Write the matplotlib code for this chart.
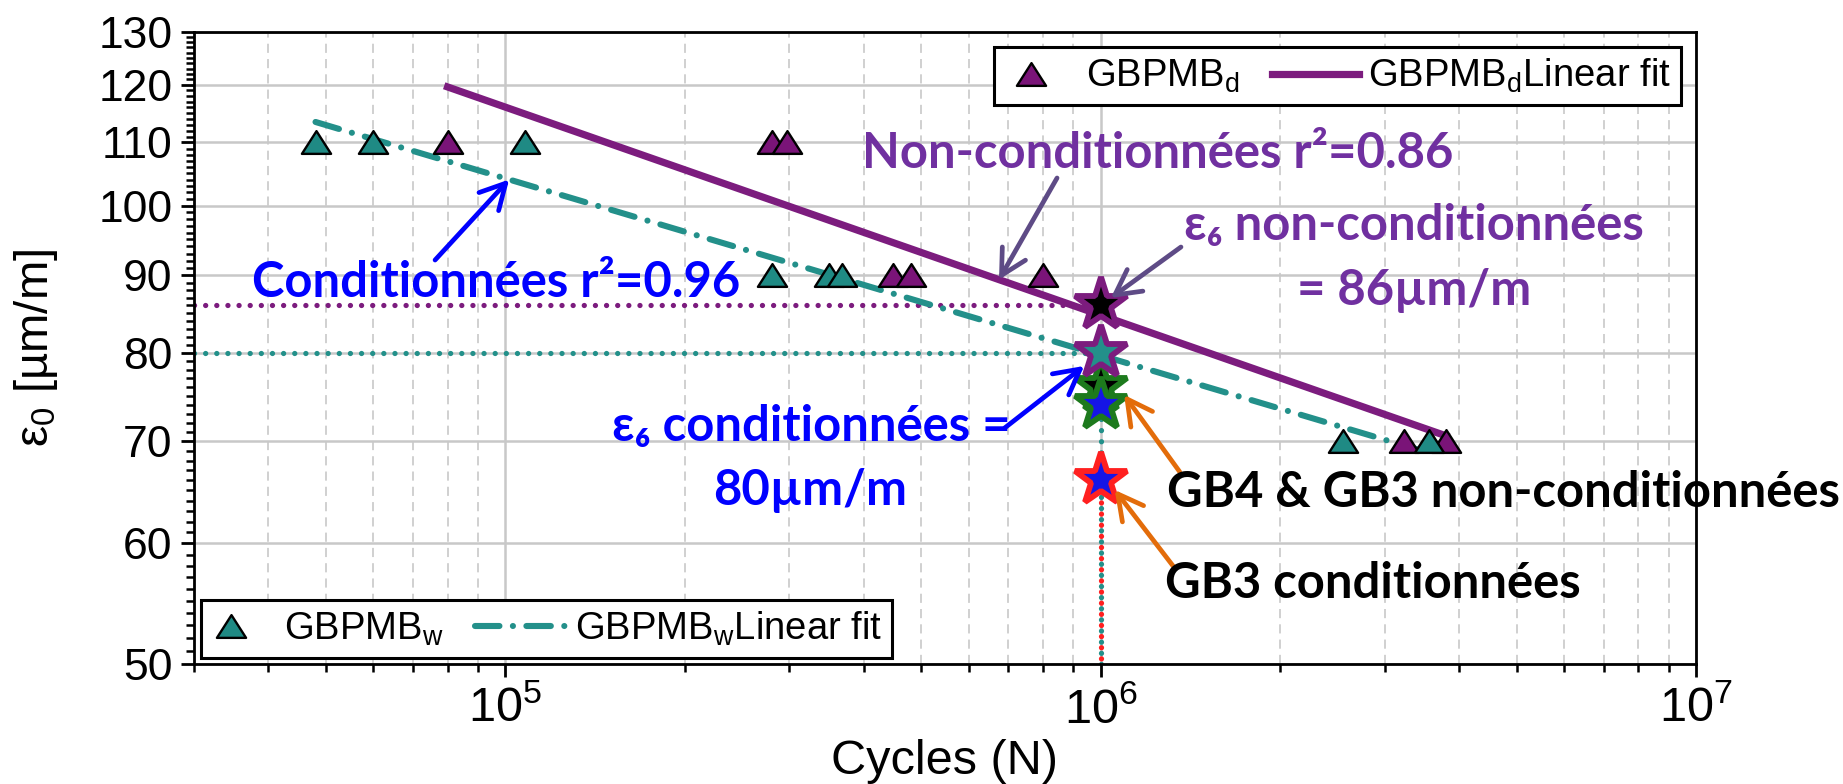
import numpy as np
import matplotlib
matplotlib.use("Agg")
import matplotlib.pyplot as plt
from matplotlib.path import Path
from matplotlib.legend_handler import HandlerLine2D
from matplotlib.ticker import LogLocator, FixedLocator, NullFormatter, FuncFormatter

# Fatigue results: initial strain vs number of cycles to failure
cycles_w = [4.8e4, 6.0e4, 1.08e5, 2.8e5, 3.5e5, 3.68e5, 2.55e6, 3.56e6]
eps_w = [110, 110, 110, 90, 90, 90, 70, 70]
cycles_d = [8.0e4, 2.8e5, 2.97e5, 4.48e5, 4.81e5, 8.0e5, 3.23e6, 3.8e6]
eps_d = [110, 110, 110, 90, 90, 90, 70, 70]

n_ref = 1e6
eps6_cond = 80
eps6_noncond = 86
eps_gb_noncond = [76, 74]      # GB4 & GB3 non-conditionnées
eps_gb3_cond = 66
r2_cond = 0.96
r2_noncond = 0.86

y_ticks = [50, 60, 70, 80, 90, 100, 110, 120, 130]
x_limits = (3e4, 1e7)

TEAL = '#23908A'
TEAL_FILL = '#1F8A84'
PURPLE = '#7C1C7E'
PURPLE_FILL = '#7A1478'
TXT_PURPLE = '#7030A0'
TXT_BLUE = '#0000FF'
ARROW_GREY = '#5E4B86'
ORANGE = '#E36C0A'
GREEN = '#1D7A1D'
STAR_BLUE = '#1515E6'
RED = '#FF2020'

SANS = ['Liberation Sans', 'DejaVu Sans']
BOLD = ['Lato', 'Open Sans', 'DejaVu Sans']
plt.rcParams['font.family'] = SANS
plt.rcParams['mathtext.default'] = 'regular'

fig = plt.figure(figsize=(18.43, 7.84), dpi=100)
ax = fig.add_axes([0.10526, 0.15306, 0.81498, 0.80612])
ax.set_xscale('log')
ax.set_yscale('log')
ax.set_xlim(*x_limits)
ax.set_ylim(y_ticks[0], y_ticks[-1])

# squat triangle marker
tri = Path([(-1, -0.78), (1, -0.78), (0, 0.78), (-1, -0.78)],
           [Path.MOVETO, Path.LINETO, Path.LINETO, Path.CLOSEPOLY])


def loglog_fit(x, y):
    b, a = np.polyfit(np.log10(x), np.log10(y), 1)
    return lambda n: 10 ** (a + b * np.log10(n))


fit_w = loglog_fit(cycles_w, eps_w)
fit_d = loglog_fit(cycles_d, eps_d)
xw = np.array([min(cycles_w), max(cycles_w)])
xd = np.array([min(cycles_d), max(cycles_d)])

fit_line_w, = ax.plot(xw, fit_w(xw), color=TEAL, lw=4.4, dashes=(4.0, 2.2, 0.01, 2.2),
                      dash_capstyle='round', zorder=3)
fit_line_d, = ax.plot(xd, fit_d(xd), color=PURPLE, lw=5.2, zorder=3.1)

pts_w, = ax.plot(cycles_w, eps_w, ls='none', marker=tri, ms=21, mfc=TEAL_FILL,
                 mec='black', mew=1.7, zorder=5)
pts_d, = ax.plot(cycles_d, eps_d, ls='none', marker=tri, ms=21, mfc=PURPLE_FILL,
                 mec='black', mew=1.7, zorder=4.9)

# reading lines at 10^6 cycles
dot = dict(lw=3.8, dash_capstyle='round', zorder=2.5)
ax.plot([x_limits[0], n_ref], [eps6_noncond] * 2, color=PURPLE, ls=(0, (0.01, 2.1)), **dot)
ax.plot([x_limits[0], n_ref], [eps6_cond] * 2, color=TEAL, ls=(0, (0.01, 2.1)), **dot)
ax.plot([n_ref] * 2, [y_ticks[0], eps_gb3_cond], color=RED, ls=(1.05, (0.01, 2.1)), **dot)
ax.plot([n_ref] * 2, [y_ticks[0], eps6_cond], color=TEAL, ls=(0, (0.01, 2.1)), **dot)

star = dict(marker='*', ms=40, mew=4.2, ls='none')
ax.plot([n_ref], [eps_gb_noncond[0]], mfc='black', mec=GREEN, zorder=6, **star)
ax.plot([n_ref], [eps_gb_noncond[1]], mfc=STAR_BLUE, mec=GREEN, zorder=6.1, **star)
ax.plot([n_ref], [eps6_noncond], mfc='black', mec=PURPLE, zorder=6.2, **star)
ax.plot([n_ref], [eps6_cond], mfc=TEAL, mec=PURPLE, zorder=6.3, **star)
ax.plot([n_ref], [eps_gb3_cond], mfc=STAR_BLUE, mec=RED, zorder=6.2, **star)

# grid, ticks, spines
ax.set_axisbelow(True)
ax.grid(True, which='major', color='#C8C8C8', lw=1.8)
ax.xaxis.grid(True, which='minor', color='#C4C4C4', lw=1.1, ls=(0, (6, 4)))
ax.yaxis.grid(False, which='minor')

ax.yaxis.set_major_locator(FixedLocator(y_ticks))
ax.yaxis.set_major_formatter(FuncFormatter(lambda v, p: f'{v:g}'))
ax.yaxis.set_minor_locator(FixedLocator([v for v in range(y_ticks[0], y_ticks[-1] + 1) if v % 10]))
ax.yaxis.set_minor_formatter(NullFormatter())
ax.xaxis.set_major_locator(LogLocator(base=10, numticks=10))
ax.xaxis.set_minor_locator(LogLocator(base=10, subs=np.arange(2, 10), numticks=20))
ax.xaxis.set_minor_formatter(NullFormatter())

ax.tick_params(which='major', direction='out', length=9.5, width=2, labelsize=32, pad=6,
               top=False, right=False)
ax.tick_params(axis='x', which='major', labelsize=35, pad=7)
ax.tick_params(which='minor', direction='out', length=5.5, width=1.8, top=False, right=False)
for s in ax.spines.values():
    s.set_linewidth(2)

ax.set_xlabel('Cycles (N)', fontsize=35)
ax.xaxis.set_label_coords(0.5, -0.118)
ax.set_ylabel('ε$_{0}$ [µm/m]', fontsize=34)
ax.yaxis.set_label_coords(-0.089, 0.5)


# legends
class MarkerAt(HandlerLine2D):
    def __init__(self, frac, **kw):
        super().__init__(**kw)
        self.frac = frac

    def get_xdata(self, legend, xdescent, ydescent, width, height, fontsize):
        xdata, xm = super().get_xdata(legend, xdescent, ydescent, width, height, fontsize)
        return np.array([-xdescent, -xdescent + 2 * self.frac * width]), xm


class LineExt(HandlerLine2D):
    def __init__(self, ext, **kw):
        super().__init__(**kw)
        self.ext = ext

    def get_xdata(self, legend, xdescent, ydescent, width, height, fontsize):
        xdata, xm = super().get_xdata(legend, xdescent, ydescent, width, height, fontsize)
        return np.array([-xdescent - self.ext * width, -xdescent + width]), xm


leg_common = dict(ncol=2, borderaxespad=0, fontsize=27.5, frameon=True, fancybox=False,
                  framealpha=1, edgecolor='black', borderpad=0.26, handletextpad=0.25,
                  numpoints=1)

leg_d = ax.legend([pts_d, fit_line_d], ['GBPMB$_{d}$', 'GBPMB$_{d}$Linear fit'],
                  loc='upper right', bbox_to_anchor=(0.990, 0.9763),
                  handlelength=1.9, columnspacing=1.2,
                  handler_map={pts_d: MarkerAt(0.37), fit_line_d: LineExt(0.19)},
                  **leg_common)
leg_d.get_frame().set_linewidth(2.2)
ax.add_artist(leg_d)

leg_w = ax.legend([pts_w, fit_line_w], ['GBPMB$_{w}$', 'GBPMB$_{w}$Linear fit'],
                  loc='lower left', bbox_to_anchor=(0.0047, 0.0095),
                  handlelength=1.67, columnspacing=1.5,
                  handler_map={pts_w: MarkerAt(0.31), fit_line_w: LineExt(0.41)},
                  **leg_common)
leg_w.get_frame().set_linewidth(2.2)

# annotation arrows
def arrow(head, tail, color, shrink=0):
    ax.annotate('', xy=head, xycoords='data', xytext=tail, textcoords='axes fraction',
                arrowprops=dict(arrowstyle='->,head_length=0.75,head_width=0.4',
                                mutation_scale=24, color=color, lw=3.4,
                                shrinkA=0, shrinkB=shrink), zorder=8)


arrow((1.015e5, fit_w(1.015e5)), (0.1605, 0.6392), TXT_BLUE)
arrow((6.75e5, fit_d(6.75e5)), (0.5746, 0.7690), ARROW_GREY)
arrow((n_ref, eps6_noncond), (0.6571, 0.6598), ARROW_GREY, shrink=9)
arrow((n_ref, eps6_cond), (0.5397, 0.3734), TXT_BLUE, shrink=15)
arrow((1.095e6, 75.1), (0.6562, 0.3043), ORANGE)
arrow((1.056e6, 65.05), (0.6522, 0.1540), ORANGE)

# annotation texts: (text, x, y, ha, color, target width in px)
notes = [
    (f'Non-conditionnées r²={r2_noncond:.2f}', 0.6418, 0.7848, 'center', TXT_PURPLE, 587),
    ('ε₆ non-conditionnées', 0.8123, 0.6709, 'center', TXT_PURPLE, 466),
    (f'= {eps6_noncond}µm/m', 0.8126, 0.5680, 'center', TXT_PURPLE, 233),
    (f'Conditionnées r²={r2_cond:.2f}', 0.2014, 0.5812, 'center', TXT_BLUE, 487),
    ('ε₆ conditionnées =', 0.4108, 0.3528, 'center', TXT_BLUE, 402),
    (f'{eps6_cond}µm/m', 0.4101, 0.2516, 'center', TXT_BLUE, 191),
    ('GB4 & GB3 non-conditionnées', 0.6478, 0.2484, 'left', 'black', 669),
    ('GB3 conditionnées', 0.6465, 0.1044, 'left', 'black', 414),
]
texts = []
for s, x, y, ha, c, w in notes:
    t = ax.text(x, y, s, transform=ax.transAxes, ha=ha, va='baseline', color=c,
                fontsize=30, family=BOLD, fontweight='bold', zorder=9, clip_on=False)
    texts.append((t, w))

fig.canvas.draw()
renderer = fig.canvas.get_renderer()
measured = sum(t.get_window_extent(renderer).width for t, _ in texts)
target = sum(w for _, w in texts)
scale = target / measured
for t, _ in texts:
    t.set_fontsize(t.get_fontsize() * scale)

fig.savefig('out.png', dpi=100, facecolor='white')
